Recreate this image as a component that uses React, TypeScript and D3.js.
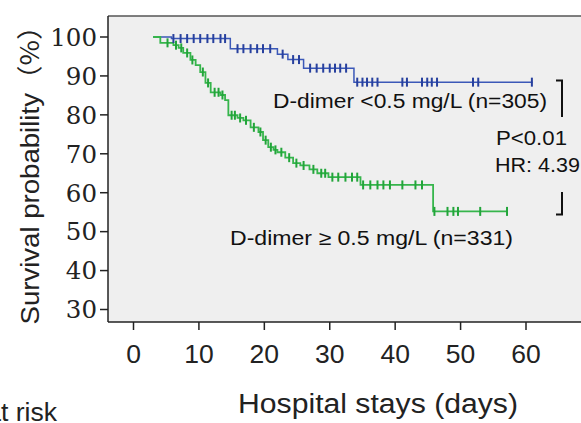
import React from "react";
import * as d3 from "d3";

// ---- data ----
const xTicks = [0, 10, 20, 30, 40, 50, 60];
const yTicks = [100, 90, 80, 70, 60, 50, 40, 30];

// Low D-dimer group: step points [day, survival %]
const lowSteps: [number, number][] = [
  [3, 100], [5.8, 99.6], [14.8, 97.0], [22.0, 95.6], [23.6, 94.2],
  [26.0, 92.0], [33.7, 88.4], [61, 88.4],
];
const lowCensor = [
  6.1, 7.2, 8.2, 9.2, 10.2, 11.3, 12.2, 13.3, 14.0,
  15.9, 16.8, 17.9, 18.9, 19.8, 20.9, 22.8, 24.4, 25.3,
  27, 28, 29, 30, 30.8, 31.6, 32.5,
  34.2, 35.0, 35.7, 36.5, 37.3, 41.1, 41.8, 44.1, 44.9, 45.6, 46.4, 51.9, 52.7, 60.9,
];

// High D-dimer group
const highSteps: [number, number][] = [
  [3, 100], [4.1, 98.5], [6.1, 97.9], [6.9, 97.2], [7.6, 95.9], [8.7, 94.1],
  [9.5, 92.8], [10.2, 91.0], [11.0, 88.2], [11.8, 85.8], [13.3, 85.1],
  [14.0, 83.8], [14.5, 79.9], [15.9, 79.2], [16.8, 78.6], [17.9, 76.8],
  [19.1, 75.6], [19.8, 73.5], [20.6, 71.7], [21.4, 71.0], [22.0, 70.4],
  [23.2, 69.0], [24.4, 67.6], [25.5, 67.0], [26.9, 66.0], [28.1, 65.0],
  [29.8, 64.0], [34.7, 62.0], [45.8, 55.2], [57.1, 55.2],
];
const highCensor = [
  5.2, 6.5, 7.3, 8.2, 9.0, 10.6, 11.4, 12.4, 13.0, 13.6, 15.0, 15.5, 16.3,
  17.2, 18.4, 19.4, 20.2, 21.0, 21.7, 22.6, 23.8, 24.9, 26.0, 27.5, 28.7, 29.3,
  30.4, 31.3, 32.4, 33.4, 34.2,
  35.1, 36.2, 37.3, 38.2, 39.2, 41.1, 43.1, 44.1,
  46.0, 48.0, 48.9, 49.6, 53.0, 57.1,
];

const W = 581;
const H = 423;

const x = d3.scaleLinear().domain([0, 60]).range([133.5, 526]);
const y = d3.scaleLinear().domain([30, 100]).range([309.5, 37]);

const plotL = 108, plotT = 16, plotB = 322, plotR = 600;

const line = d3
  .line<[number, number]>()
  .x((d) => x(d[0]))
  .y((d) => y(d[1]))
  .curve(d3.curveStepAfter);

function survAt(steps: [number, number][], t: number) {
  let s = steps[0][1];
  for (const [ti, si] of steps) if (ti <= t) s = si;
  return s;
}

const BLUE = "#3b58b8";
const BLUE_D = "#27409e";
const GREEN = "#36b54c";
const GREEN_D = "#22a53a";
const SANS = "'Liberation Sans', Arial, sans-serif";

export default function App() {
  return (
    <svg
      width={W}
      height={H}
      style={{ position: "absolute", left: 0, top: 0, background: "#fff" }}
    >
      <rect x={plotL} y={plotT} width={plotR - plotL} height={plotB - plotT} fill="#efefef" />
      {/* frame */}
      <line x1={plotL} x2={plotR} y1={plotT} y2={plotT} stroke="#555" strokeWidth={1.5} />
      <line x1={plotL} x2={plotL} y1={plotT} y2={plotB} stroke="#222" strokeWidth={1.5} />
      <line x1={plotL} x2={plotR} y1={plotB} y2={plotB} stroke="#222" strokeWidth={1.5} />

      {/* y axis */}
      {yTicks.map((v) => (
        <g key={v}>
          <line x1={100} x2={plotL} y1={y(v)} y2={y(v)} stroke="#222" strokeWidth={1.5} />
          <text
            x={97}
            y={y(v) + 8.8}
            textAnchor="end"
            fontFamily="'DejaVu Serif', serif"
            fontSize={24.5}
            fill="#222"
          >
            {v}
          </text>
        </g>
      ))}
      {/* x axis */}
      {xTicks.map((v) => (
        <g key={v}>
          <line x1={x(v)} x2={x(v)} y1={plotB} y2={330} stroke="#222" strokeWidth={1.5} />
          <text x={x(v)} y={363} textAnchor="middle" fontFamily={SANS} fontSize={26.5} fill="#222">
            {v}
          </text>
        </g>
      ))}

      {/* axis titles */}
      <text
        transform="translate(39,168.5) rotate(-90)"
        textAnchor="middle"
        fontFamily={SANS}
        fontSize={26}
        fill="#222"
        textLength={312}
        lengthAdjust="spacingAndGlyphs"
      >
        Survival probability
        <tspan fontFamily="'Noto Sans CJK SC', sans-serif">（%）</tspan>
      </text>
      <text
        x={378}
        y={413}
        textAnchor="middle"
        fontFamily={SANS}
        fontSize={27}
        fill="#222"
        textLength={280}
        lengthAdjust="spacingAndGlyphs"
      >
        Hospital stays (days)
      </text>
      <text x={57} y={421} textAnchor="end" fontFamily={SANS} fontSize={26.5} fill="#222">
        Number at risk
      </text>

      {/* curves */}
      <path d={line(lowSteps) ?? ""} fill="none" stroke={BLUE} strokeWidth={1.5} />
      <path d={line(highSteps) ?? ""} fill="none" stroke={GREEN} strokeWidth={1.8} />
      {lowCensor.map((t, i) => (
        <line
          key={"l" + i}
          x1={x(t)}
          x2={x(t)}
          y1={y(survAt(lowSteps, t)) - 4.5}
          y2={y(survAt(lowSteps, t)) + 4.5}
          stroke={BLUE_D}
          strokeWidth={2}
        />
      ))}
      {highCensor.map((t, i) => (
        <line
          key={"h" + i}
          x1={x(t)}
          x2={x(t)}
          y1={y(survAt(highSteps, t)) - 4.5}
          y2={y(survAt(highSteps, t)) + 4.5}
          stroke={GREEN_D}
          strokeWidth={2}
        />
      ))}

      {/* annotations */}
      <text
        x={273}
        y={108}
        fontFamily={SANS}
        fontSize={20}
        fill="#111"
        textLength={274}
        lengthAdjust="spacingAndGlyphs"
      >
        D-dimer &lt;0.5 mg/L (n=305)
      </text>
      <text
        x={230}
        y={245}
        fontFamily={SANS}
        fontSize={20}
        fill="#111"
        textLength={283}
        lengthAdjust="spacingAndGlyphs"
      >
        D-dimer ≥ 0.5 mg/L (n=331)
      </text>
      <text
        x={496}
        y={145}
        fontFamily={SANS}
        fontSize={19.5}
        fill="#111"
        textLength={71}
        lengthAdjust="spacingAndGlyphs"
      >
        P&lt;0.01
      </text>
      <text
        x={495}
        y={172}
        fontFamily={SANS}
        fontSize={19.5}
        fill="#111"
        textLength={85}
        lengthAdjust="spacingAndGlyphs"
      >
        HR: 4.39
      </text>
      <path d="M556,80.5 H562 V117" fill="none" stroke="#111" strokeWidth={2} />
      <path d="M562,192 V214.5 H556" fill="none" stroke="#111" strokeWidth={2} />
    </svg>
  );
}
